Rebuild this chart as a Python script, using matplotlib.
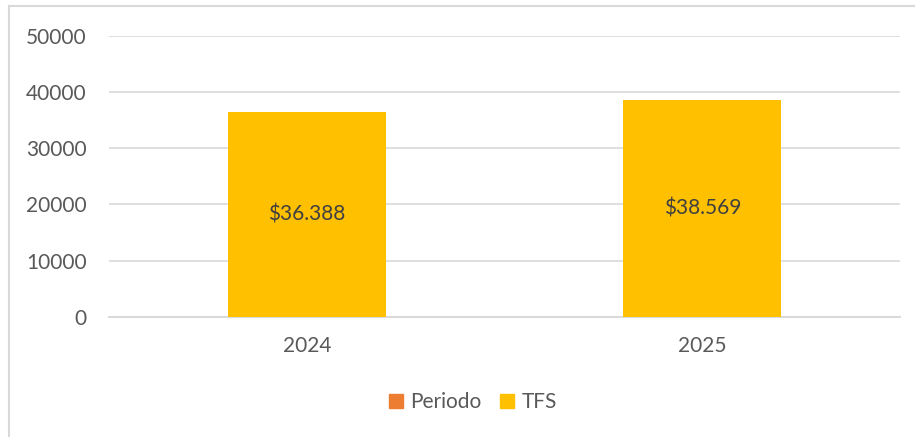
import matplotlib.pyplot as plt
from matplotlib.patches import Patch
from matplotlib.lines import Line2D

years = ["2024", "2025"]
tfs = [36388, 38569]
bar_labels = ["$36.388", "$38.569"]
series_names = ["Periodo", "TFS"]
yticks = [0, 10000, 20000, 30000, 40000, 50000]

orange = "#ED7D31"
gold = "#FFC000"
grid_gray = "#D9D9D9"
text_gray = "#595959"

plt.rcParams['font.family'] = ['Lato', 'DejaVu Sans']

fig = plt.figure(figsize=(9.15, 4.37), dpi=100)
ax = fig.add_axes([109 / 915, 1 - 317 / 437, (900 - 109) / 915, (317 - 35.5) / 437])

x = range(len(years))
bars = ax.bar(x, tfs, width=0.4, color=gold, zorder=3)
for b, lab in zip(bars, bar_labels):
    ax.text(b.get_x() + b.get_width() / 2, b.get_height() / 2, lab,
            ha="center", va="center", fontsize=15, color="#404040", zorder=4)

ax.set_xlim(-0.5, 1.5)
ax.set_ylim(0, 50000)
ax.set_xticks(list(x))
ax.set_xticklabels(years)
ax.set_yticks(yticks)
ax.set_yticklabels([str(v) for v in yticks])
ax.tick_params(axis="both", length=0, labelsize=15, labelcolor=text_gray)
ax.tick_params(axis="y", pad=16)
ax.tick_params(axis="x", pad=14)
ax.grid(axis="y", color=grid_gray, linewidth=1.2, zorder=0)
for s in ["top", "right", "left"]:
    ax.spines[s].set_visible(False)
ax.spines["bottom"].set_color(grid_gray)
ax.spines["bottom"].set_linewidth(1.4)
ax.spines["bottom"].set_zorder(2)

handles = [Patch(color=orange), Patch(color=gold)]
fig.legend(handles, series_names, loc="center", bbox_to_anchor=(473 / 915, 1 - 402 / 437),
           ncol=2, frameon=False, fontsize=15, labelcolor=text_gray,
           handlelength=0.67, handleheight=0.67, handletextpad=0.35, columnspacing=0.9)

# outer chart border (left and top only visible in the crop)
fig.add_artist(Line2D([8.5 / 915, 8.5 / 915], [0, 1 - 5.5 / 437], transform=fig.transFigure,
                      color=grid_gray, linewidth=1.5))
fig.add_artist(Line2D([8.5 / 915, 1], [1 - 5.5 / 437, 1 - 5.5 / 437], transform=fig.transFigure,
                      color=grid_gray, linewidth=1.5))

fig.savefig("out.png", dpi=100)
